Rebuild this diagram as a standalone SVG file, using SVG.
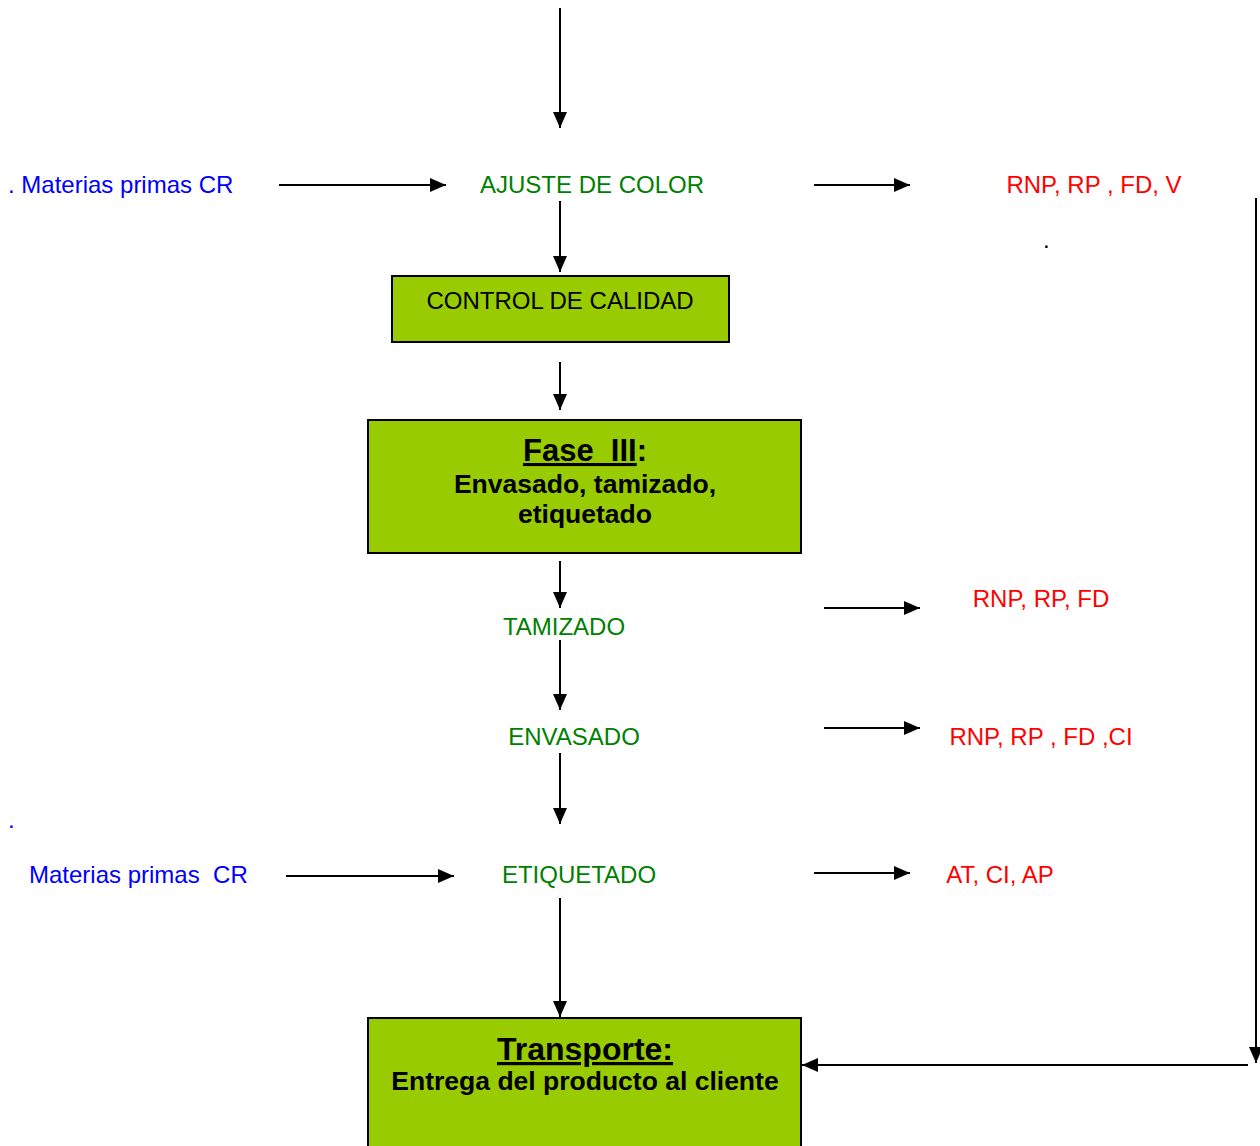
<svg xmlns="http://www.w3.org/2000/svg" width="1260" height="1146" viewBox="0 0 1260 1146">
<style>
text{font-family:"Liberation Sans",Arial,sans-serif;font-size:24px;white-space:pre}
.g{fill:#008000}
.r{fill:#ff0000}
.b{fill:#0000ff}
.k{fill:#000}
.bold{font-weight:bold}
.box{fill:#99cc00;stroke:#000;stroke-width:2}
.c line{stroke:#000;stroke-width:2;marker-end:url(#ah)}
</style>
<defs>
<marker id="ah" markerUnits="userSpaceOnUse" markerWidth="18" markerHeight="16" refX="16" refY="7" orient="auto">
<path d="M0,0 L16,7 L0,14 Z" fill="#000"/>
</marker>
</defs>
<rect width="1260" height="1146" fill="#fff"/>
<g id="connectors" class="c">
<line x1="560" y1="8" x2="560" y2="128"/>
<line x1="279" y1="185" x2="446" y2="185"/>
<line x1="814" y1="185" x2="910" y2="185"/>
<line x1="560" y1="201" x2="560" y2="272"/>
<line x1="560" y1="362" x2="560" y2="410"/>
<line x1="560" y1="561" x2="560" y2="608"/>
<line x1="560" y1="640" x2="560" y2="710"/>
<line x1="560" y1="753" x2="560" y2="824"/>
<line x1="560" y1="898" x2="560" y2="1017"/>
<line x1="824" y1="608" x2="920" y2="608"/>
<line x1="824" y1="728" x2="920" y2="728"/>
<line x1="814" y1="873" x2="910" y2="873"/>
<line x1="286" y1="876" x2="454" y2="876"/>
<line x1="1256" y1="198" x2="1256" y2="1063"/>
<line x1="1248" y1="1065" x2="802" y2="1065"/>
</g>
<g id="in1"><text class="b" x="8" y="193" xml:space="preserve">. Materias primas CR</text></g>
<g id="ajuste"><text class="g" x="592" y="193" text-anchor="middle">AJUSTE DE COLOR</text></g>
<g id="out1"><text class="r" x="1094" y="193" text-anchor="middle" xml:space="preserve">RNP, RP , FD, V</text>
<text class="k" x="1043" y="248">.</text></g>
<g id="control">
<rect class="box" x="392" y="276" width="337" height="66"/>
<text class="k" x="560" y="309" text-anchor="middle">CONTROL DE CALIDAD</text>
</g>
<g id="fase3">
<rect class="box" x="368" y="420" width="433" height="133"/>
<text class="k bold" x="585" y="461" text-anchor="middle" style="font-size:31px" xml:space="preserve"><tspan text-decoration="underline">Fase  III</tspan>:</text>
<text class="k bold" x="585" y="493" text-anchor="middle" style="font-size:26.5px">Envasado, tamizado,</text>
<text class="k bold" x="585" y="523" text-anchor="middle" style="font-size:26.5px">etiquetado</text>
</g>
<g id="tamizado"><text class="g" x="564" y="635" text-anchor="middle">TAMIZADO</text></g>
<g id="out2"><text class="r" x="1041" y="607" text-anchor="middle">RNP, RP, FD</text></g>
<g id="envasado"><text class="g" x="574" y="745" text-anchor="middle">ENVASADO</text></g>
<g id="out3"><text class="r" x="1041" y="745" text-anchor="middle" xml:space="preserve">RNP, RP , FD ,CI</text></g>
<g id="dot2"><text class="b" x="8" y="828">.</text></g>
<g id="in2"><text class="b" x="29" y="883" xml:space="preserve">Materias primas  CR</text></g>
<g id="etiquetado"><text class="g" x="579" y="883" text-anchor="middle">ETIQUETADO</text></g>
<g id="out4"><text class="r" x="1000" y="883" text-anchor="middle">AT, CI, AP</text></g>
<g id="transporte">
<rect class="box" x="368" y="1018" width="433" height="140"/>
<text class="k bold" x="585" y="1060" text-anchor="middle" style="font-size:32px"><tspan text-decoration="underline">Transporte:</tspan></text>
<text class="k bold" x="585" y="1090" text-anchor="middle" style="font-size:26.5px">Entrega del producto al cliente</text>
</g>
</svg>
